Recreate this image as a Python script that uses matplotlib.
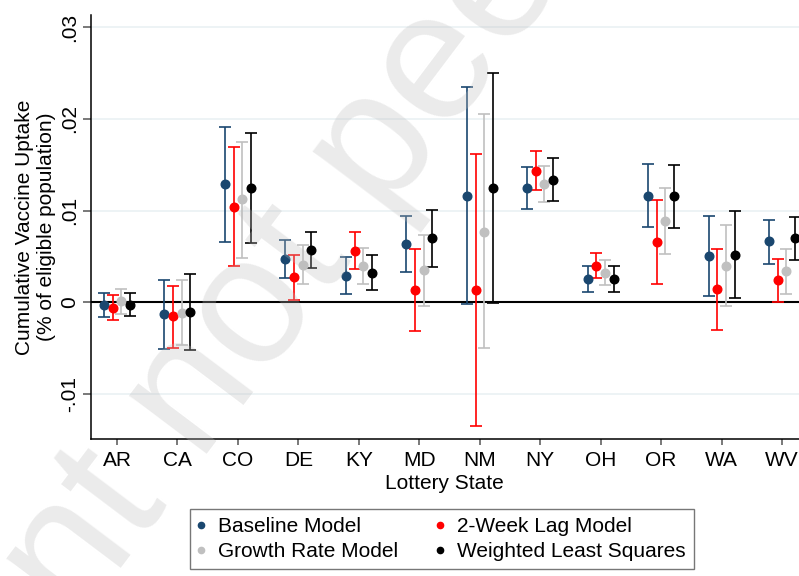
import numpy as np
import matplotlib
matplotlib.use('Agg')
import matplotlib.pyplot as plt
from matplotlib.lines import Line2D

plt.rcParams['font.family'] = ['Liberation Sans', 'DejaVu Sans']

# 彩票州
states = ['AR', 'CA', 'CO', 'DE', 'KY', 'MD', 'NM', 'NY', 'OH', 'OR', 'WA', 'WV']

# 基准模型
base_est = [-0.0003, -0.0013, 0.0129, 0.0047, 0.0029, 0.0064, 0.0116, 0.0125, 0.0025, 0.0116, 0.0050, 0.0067]
base_lo = [-0.0016, -0.0051, 0.0066, 0.0027, 0.0009, 0.0033, -0.0002, 0.0102, 0.0011, 0.0082, 0.0007, 0.0042]
base_hi = [0.0010, 0.0024, 0.0191, 0.0068, 0.0049, 0.0094, 0.0235, 0.0147, 0.0040, 0.0151, 0.0094, 0.0090]

# 两周滞后模型
lag_est = [-0.0006, -0.0015, 0.0104, 0.0028, 0.0056, 0.0013, 0.0013, 0.0143, 0.0040, 0.0066, 0.0014, 0.0024]
lag_lo = [-0.0019, -0.0050, 0.0039, 0.0003, 0.0036, -0.0031, -0.0135, 0.0122, 0.0026, 0.0020, -0.0030, 0.0000]
lag_hi = [0.0008, 0.0018, 0.0169, 0.0052, 0.0077, 0.0058, 0.0162, 0.0165, 0.0054, 0.0111, 0.0058, 0.0047]

# 增长率模型
growth_est = [0.0001, -0.0012, 0.0112, 0.0041, 0.0039, 0.0035, 0.0077, 0.0129, 0.0032, 0.0089, 0.0040, 0.0034]
growth_lo = [-0.0013, -0.0047, 0.0048, 0.0020, 0.0020, -0.0004, -0.0050, 0.0109, 0.0019, 0.0053, -0.0004, 0.0009]
growth_hi = [0.0015, 0.0024, 0.0175, 0.0062, 0.0059, 0.0073, 0.0205, 0.0148, 0.0046, 0.0125, 0.0084, 0.0058]

# 加权最小二乘
wls_est = [-0.0003, -0.0011, 0.0125, 0.0057, 0.0032, 0.0070, 0.0125, 0.0133, 0.0025, 0.0116, 0.0052, 0.0070]
wls_lo = [-0.0015, -0.0052, 0.0065, 0.0037, 0.0013, 0.0038, -0.0001, 0.0110, 0.0011, 0.0081, 0.0005, 0.0046]
wls_hi = [0.0010, 0.0031, 0.0184, 0.0077, 0.0052, 0.0101, 0.0250, 0.0157, 0.0040, 0.0150, 0.0099, 0.0093]

y_ticks = [-0.01, 0, 0.01, 0.02, 0.03]
y_tick_labels = ['-.01', '0', '.01', '.02', '.03']

models = [
    ('Baseline Model', base_est, base_lo, base_hi, '#1a476f', -0.215),
    ('2-Week Lag Model', lag_est, lag_lo, lag_hi, '#ff0000', -0.07),
    ('Growth Rate Model', growth_est, growth_lo, growth_hi, '#c0c0c0', 0.07),
    ('Weighted Least Squares', wls_est, wls_lo, wls_hi, '#000000', 0.215),
]

fig = plt.figure(figsize=(7.99, 5.76), dpi=100)
ax = fig.add_axes([0.1133, 0.2378, 0.8867, 0.7361])

x = np.arange(len(states))

# 网格线和零线
for yv in y_ticks:
    if yv != 0:
        ax.axhline(yv, color='#e8f0f2', lw=1.1, zorder=0)
ax.axhline(0, color='black', lw=1.5, zorder=1)

for name, est, lo, hi, color, off in models:
    est = np.array(est)
    yerr = [est - np.array(lo), np.array(hi) - est]
    ax.errorbar(x + off, est, yerr=yerr, fmt='o', color=color, ms=6.2,
                capsize=4, elinewidth=1.2, capthick=1.2, zorder=3)

ax.set_xlim(-0.438, 11.28)
ax.set_ylim(-0.0149, 0.0313)
ax.set_xticks(x)
ax.set_xticklabels(states, fontsize=15)
ax.set_yticks(y_ticks)
ax.set_yticklabels(y_tick_labels, fontsize=15, rotation=90, va='center')
ax.tick_params(axis='y', length=6, width=1.1, color='#555555', pad=2)
ax.tick_params(axis='x', length=4.5, width=1.1, color='#555555', pad=4)

for s in ['top', 'right']:
    ax.spines[s].set_visible(False)
for s in ['left', 'bottom']:
    ax.spines[s].set_linewidth(1.1)
    ax.spines[s].set_color('black')

ax.set_xlabel('Lottery State', fontsize=15, labelpad=3)
ax.set_ylabel('Cumulative Vaccine Uptake\n(% of eligible population)', fontsize=15, labelpad=3)

# 图例
handles = [Line2D([], [], ls='none', marker='o', ms=4.5, color=m[4]) for m in models]
labels = [m[0] for m in models]
order = [0, 2, 1, 3]
fig.legend([handles[i] for i in order], [labels[i] for i in order], ncol=2,
           loc='upper left', bbox_to_anchor=(189.5 / 799, 1 - 509 / 576),
           fontsize=15, frameon=True, fancybox=False, edgecolor='#555555',
           borderpad=0.38, labelspacing=0.3, handlelength=0.35,
           handletextpad=0.64, columnspacing=1.85, borderaxespad=0)
fig.legends[0].get_frame().set_linewidth(1.0)

# 水印
fig.text(-217 / 799, (576 - 1017) / 576, 'Preprint not peer reviewed', fontsize=132,
         rotation=53, rotation_mode='anchor', ha='left', va='baseline',
         color=(188 / 255, 188 / 255, 188 / 255), alpha=0.3, zorder=10)

plt.savefig('out.png', dpi=100)
